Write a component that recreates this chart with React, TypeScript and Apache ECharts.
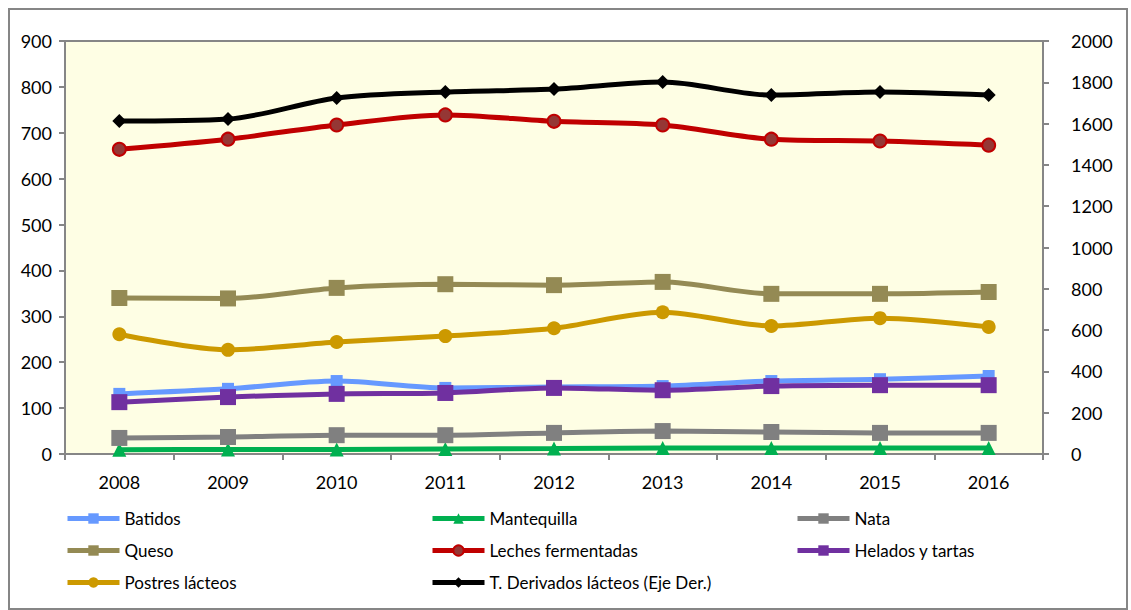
import React, { useEffect, useRef } from "react";
import * as echarts from "echarts";

const years = ["2008", "2009", "2010", "2011", "2012", "2013", "2014", "2015", "2016"];
const batidos = [131, 142, 159, 144, 146, 148, 159, 163, 170];
const mantequilla = [9, 10, 10, 11, 12, 13, 13, 13, 13];
const nata = [35, 37, 41, 41, 46, 50, 48, 46, 46];
const queso = [340, 339, 362, 370, 368, 375, 349, 349, 353];
const leches = [664, 686, 717, 739, 725, 717, 686, 682, 673];
const helados = [113, 124, 131, 133, 144, 139, 148, 150, 150];
const postres = [261, 227, 244, 257, 274, 309, 279, 296, 277];
const total = [1612, 1622, 1724, 1753, 1767, 1801, 1738, 1753, 1738];

const FONT = "Lato, 'Liberation Sans', sans-serif";

export default function App() {
  const ref = useRef<HTMLDivElement>(null);
  useEffect(() => {
    if (!ref.current) return;
    const chart = echarts.init(ref.current, null, { renderer: "svg" });
    const mk = (
      name: string,
      data: number[],
      color: string,
      symbol: string,
      size: number,
      extra: any = {}
    ) => ({
      name,
      type: "line",
      data,
      smooth: 0.3,
      symbol,
      symbolSize: size,
      lineStyle: { color, width: 5 },
      itemStyle: { color, ...(extra.itemStyle || {}) },
      yAxisIndex: extra.yAxisIndex || 0,
      z: extra.z || 2,
    });
    const legendBase = {
      orient: "vertical",
      top: 504,
      itemWidth: 52,
      itemHeight: 13,
      itemGap: 13,
      lineStyle: { width: 5 },
      textStyle: { fontFamily: FONT, fontSize: 17, color: "#000", lineHeight: 19 },
    };
    chart.setOption({
      animation: false,
      textStyle: { fontFamily: FONT },
      grid: {
        left: 65,
        right: 88,
        top: 41,
        bottom: 156,
        show: true,
        backgroundColor: "#FEFEE4",
        borderColor: "#868686",
        borderWidth: 2,
      },
      graphic: [
        {
          type: "rect",
          shape: { x: 9, y: 9, width: 1118, height: 600 },
          style: { fill: "none", stroke: "#868686", lineWidth: 2 },
          silent: true,
        },
      ],
      legend: [
        { ...legendBase, left: 60, data: ["Batidos", "Queso", "Postres lácteos"] },
        { ...legendBase, left: 425, data: ["Mantequilla", "Leches fermentadas", "T. Derivados lácteos (Eje Der.)"] },
        { ...legendBase, left: 790, data: ["Nata", "Helados y tartas"] },
      ],
      xAxis: {
        type: "category",
        data: years,
        boundaryGap: true,
        axisLine: { lineStyle: { color: "#868686", width: 2 } },
        axisTick: { show: true, length: 6, lineStyle: { color: "#868686", width: 2 } },
        axisLabel: { color: "#000", fontSize: 18, margin: 19, fontFamily: FONT },
        splitLine: { show: false },
      },
      yAxis: [
        {
          type: "value",
          min: 0,
          max: 900,
          interval: 100,
          axisLine: { show: true, lineStyle: { color: "#868686", width: 2 } },
          axisTick: { show: true, length: 6, lineStyle: { color: "#868686", width: 2 } },
          axisLabel: { color: "#000", fontSize: 18, margin: 13, fontFamily: FONT },
          splitLine: { show: false },
        },
        {
          type: "value",
          min: 0,
          max: 2000,
          interval: 200,
          position: "right",
          axisLine: { show: true, lineStyle: { color: "#868686", width: 2 } },
          axisTick: { show: true, length: 6, lineStyle: { color: "#868686", width: 2 } },
          axisLabel: {
            color: "#000",
            fontSize: 18,
            margin: 28,
            fontFamily: FONT,
            formatter: (v: number) => String(v),
          },
          splitLine: { show: false },
        },
      ],
      series: [
        mk("Batidos", batidos, "#6699FF", "rect", 12),
        mk("Mantequilla", mantequilla, "#00B050", "triangle", 14),
        mk("Nata", nata, "#808080", "rect", 16),
        mk("Queso", queso, "#948A54", "rect", 16),
        mk("Leches fermentadas", leches, "#C00000", "circle", 13, {
          itemStyle: { color: "#953735", borderColor: "#C00000", borderWidth: 2 },
        }),
        mk("Helados y tartas", helados, "#7030A0", "rect", 16),
        mk("Postres lácteos", postres, "#CC9900", "circle", 14),
        mk("T. Derivados lácteos (Eje Der.)", total, "#000000", "diamond", 14, { yAxisIndex: 1 }),
      ],
    });
    return () => chart.dispose();
  }, []);
  return (
    <div
      ref={ref}
      style={{ position: "fixed", left: 0, top: 0, width: 1131, height: 610, background: "#fff" }}
    />
  );
}
